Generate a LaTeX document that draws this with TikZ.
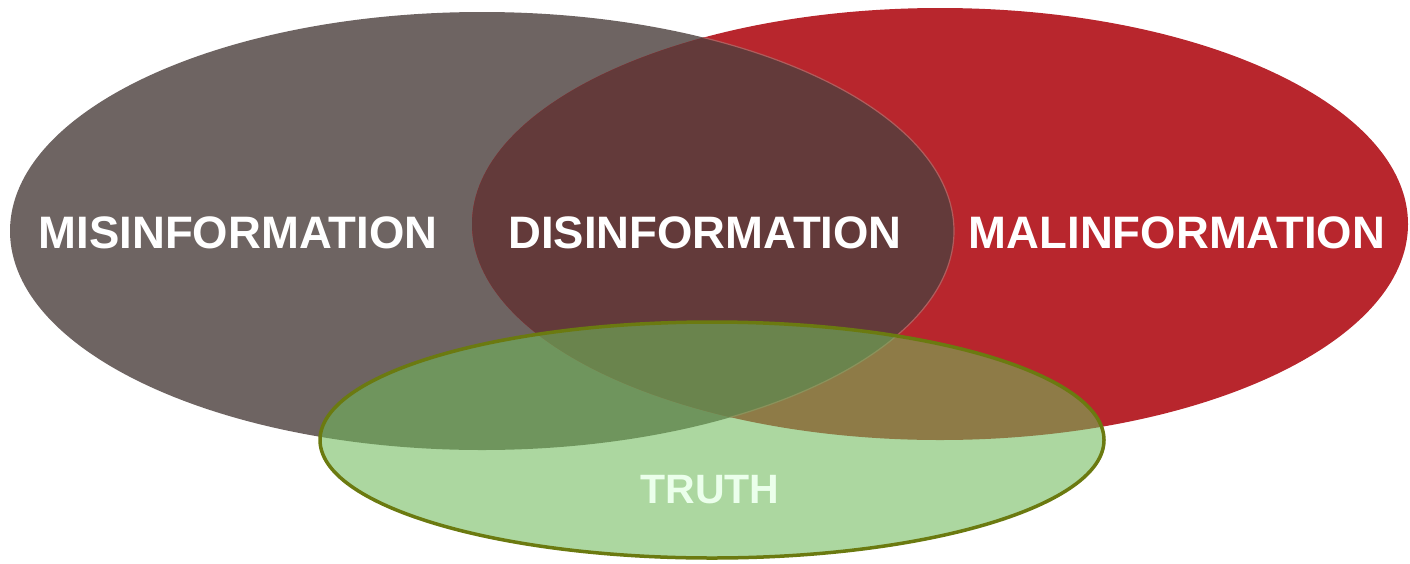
\documentclass[tikz,border=0pt]{standalone}
\usepackage{fontspec}
\setmainfont{Liberation Sans}
\definecolor{misgray}{RGB}{110,100,98}
\definecolor{malred}{RGB}{184,38,45}
\definecolor{disbrown}{RGB}{99,58,58}
\definecolor{seamred}{RGB}{176,92,92}
\definecolor{truthgreen}{RGB}{112,186,91}
\definecolor{truthedge}{RGB}{107,122,16}
\begin{document}
\begin{tikzpicture}[x=1pt,y=-1pt,line join=round,
	word/.style={text=white,inner sep=0pt,font=\fontsize{45.5}{54}\selectfont\bfseries},
	misset/.style={x radius=472pt,y radius=219pt},
	malset/.style={x radius=468pt,y radius=216pt},
	truthset/.style={x radius=392pt,y radius=118pt}]
	\useasboundingbox (0,0) rectangle (1410,563);
	% the three sets
	\fill[misgray] (482,231) ellipse [misset];
	\fill[malred] (940,224) ellipse [malset];
	\begin{scope}
		\clip (482,231) ellipse [misset];
		\fill[disbrown] (940,224) ellipse [malset];
	\end{scope}
	\begin{scope}
		\clip (940,224) ellipse [malset];
		\draw[seamred,line width=1.2pt] (482,231) ellipse [misset];
	\end{scope}
	\fill[truthgreen,fill opacity=.58] (712,440) ellipse [truthset];
	\draw[truthedge,line width=3.5pt] (712,440) ellipse [truthset];
	% labels
	\node[word] (mis) at (238,233) {MISINFORMATION};
	\node[word] (dis) at (705,233) {DISINFORMATION};
	\node[word] (mal) at (1177,233) {MALINFORMATION};
	\node[word,text=white!92!green,font=\fontsize{41}{48}\selectfont\bfseries] (truth) at (710,490) {TRUTH};
\end{tikzpicture}
\end{document}
